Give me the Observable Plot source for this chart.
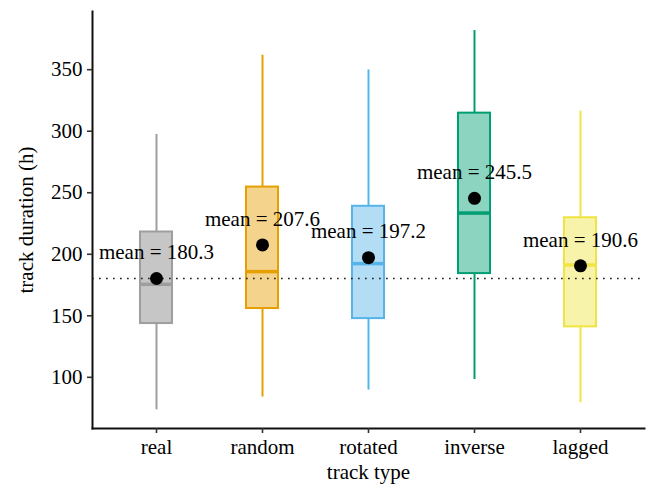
<!DOCTYPE html>
<html>
<head>
<meta charset="utf-8">
<script src="https://cdn.jsdelivr.net/npm/d3@7"></script>
<script src="https://cdn.jsdelivr.net/npm/@observablehq/plot@0.6"></script>
<style>
  html, body { margin: 0; padding: 0; background: #fff; }
</style>
</head>
<body>
<div id="chart"></div>
<script>
const trackTypes = ["real", "random", "rotated", "inverse", "lagged"];
const whiskerLow = [73.6, 84.0, 89.6, 98.2, 79.3];
const q1 = [143.7, 155.9, 147.7, 184.3, 141.0];
const median = [175.6, 185.9, 192.4, 233.5, 191.3];
const q3 = [218.1, 254.6, 239.0, 314.7, 229.7];
const whiskerHigh = [297.4, 361.8, 349.8, 381.8, 316.3];
const means = [180.3, 207.6, 197.2, 245.5, 190.6];
const referenceMean = 180.3;
const yTicks = [100, 150, 200, 250, 300, 350];
const strokeColors = ["#9e9e9e", "#E69F00", "#56B4E9", "#009E73", "#F0E442"];
const fillColors = ["#808080", "#E69F00", "#56B4E9", "#009E73", "#F0E442"];

const data = trackTypes.map((t, i) => ({
  type: t, lo: whiskerLow[i], q1: q1[i], med: median[i], q3: q3[i], hi: whiskerHigh[i],
  mean: means[i], stroke: strokeColors[i], fill: fillColors[i],
  label: "mean = " + means[i].toFixed(1)
}));

const chart = Plot.plot({
  width: 656,
  height: 488,
  marginLeft: 92,
  marginRight: 12,
  marginTop: 11,
  marginBottom: 60,
  style: { fontFamily: "Liberation Serif", fontSize: "21px", color: "#000", background: "#fff" },
  x: { type: "band", domain: trackTypes, paddingInner: 0.7, paddingOuter: 0.45 },
  y: { domain: [58.4, 397.3] },
  marks: [
    Plot.ruleX(data, { x: "type", y1: "lo", y2: "q1", stroke: d => d.stroke, strokeWidth: 2 }),
    Plot.ruleX(data, { x: "type", y1: "q3", y2: "hi", stroke: d => d.stroke, strokeWidth: 2 }),
    Plot.barY(data, { x: "type", y1: "q1", y2: "q3", fill: d => d.fill, fillOpacity: 0.45, stroke: d => d.stroke, strokeWidth: 2 }),
    Plot.tickY(data, { x: "type", y: "med", stroke: d => d.stroke, strokeWidth: 3.5 }),
    Plot.ruleY([referenceMean], { stroke: "#222", strokeWidth: 1.7, strokeDasharray: "1.7,5.3" }),
    Plot.dot(data, { x: "type", y: "mean", r: 6.5, fill: "#000" }),
    Plot.text(data, { x: "type", y: "mean", text: "label", dy: -26, fill: "#000", fontSize: 21 }),
    Plot.frame({ anchor: "left", stroke: "#111", strokeWidth: 2 }),
    Plot.frame({ anchor: "bottom", stroke: "#111", strokeWidth: 2 }),
    Plot.axisY({ ticks: yTicks, tickSize: 5, tickPadding: 5, stroke: "#333", strokeWidth: 1.6,
      label: "track duration (h)", labelAnchor: "center", labelOffset: 74, labelArrow: "none", fontSize: 21 }),
    Plot.axisX({ tickSize: 5, tickPadding: 6, stroke: "#333", strokeWidth: 1.6,
      label: "track type", labelAnchor: "center", labelOffset: 50, labelArrow: "none", fontSize: 21 })
  ]
});
document.getElementById("chart").appendChild(chart);
</script>
</body>
</html>
